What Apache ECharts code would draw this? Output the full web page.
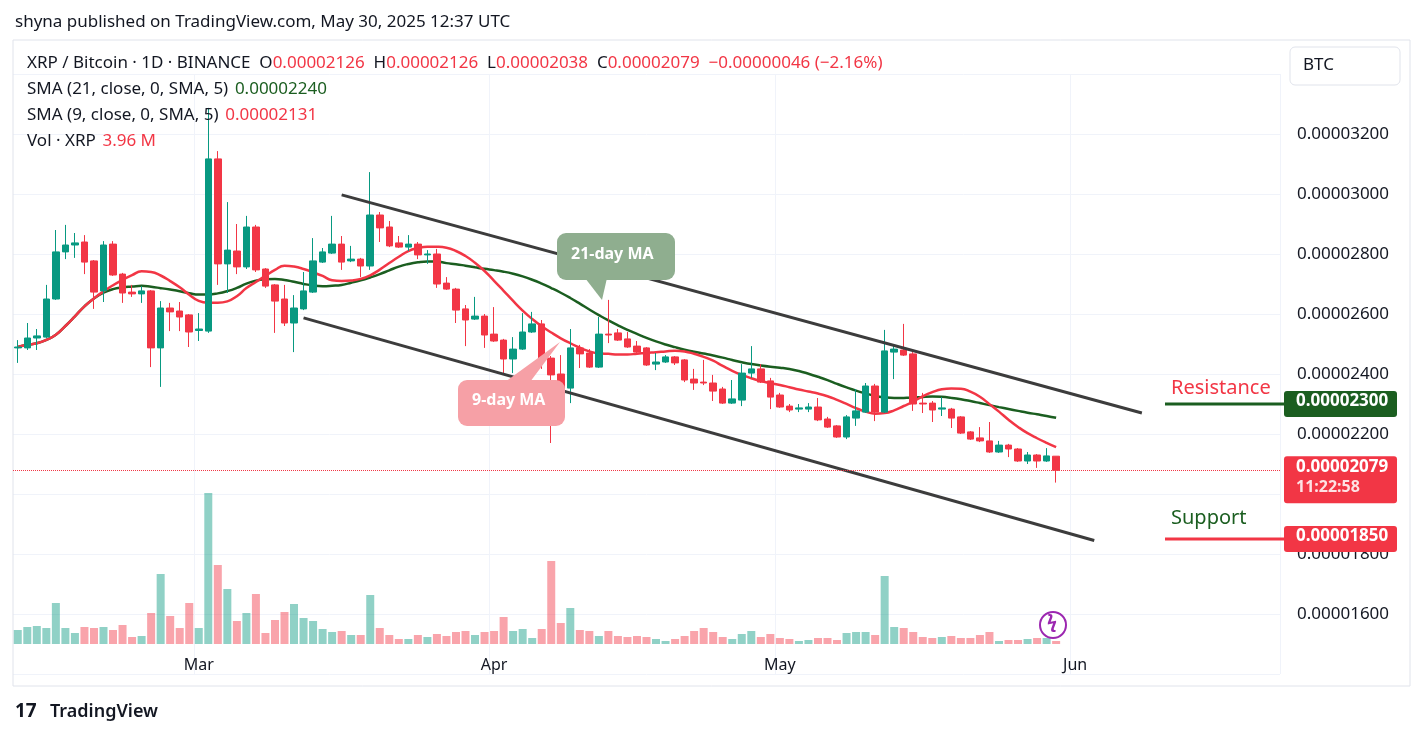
<!DOCTYPE html>
<html><head><meta charset="utf-8">
<script src="https://cdn.jsdelivr.net/npm/echarts@6/dist/echarts.min.js"></script>
<style>html,body{margin:0;padding:0;background:#fff}#c{width:1427px;height:739px}</style>
</head><body><div id="c"></div>
<script>
// prices in units of 1e-8 BTC
const open=[2487,2487,2520,2523,2650,2807,2830,2840,2777,2677,2833,2733,2673,2667,2677,2487,2620,2610,2597,2545,2543,3117,2767,2810,2757,2890,2750,2697,2650,2570,2617,2673,2773,2803,2833,2777,2783,2760,2930,2890,2837,2823,2833,2797,2800,2703,2683,2617,2583,2593,2533,2513,2450,2483,2540,2567,2453,2400,2353,2487,2470,2423,2533,2537,2517,2493,2487,2433,2440,2457,2447,2383,2373,2370,2350,2303,2313,2403,2417,2377,2330,2293,2283,2283,2290,2250,2227,2190,2253,2273,2360,2273,2473,2480,2467,2303,2303,2283,2283,2257,2207,2187,2177,2140,2163,2150,2110,2130,2110,2126];
const close=[2490,2520,2527,2650,2807,2830,2837,2773,2673,2830,2730,2670,2667,2677,2487,2620,2607,2590,2540,2550,3117,2767,2813,2757,2890,2747,2693,2643,2570,2620,2677,2777,2807,2833,2773,2783,2760,2930,2887,2827,2823,2833,2797,2800,2700,2683,2613,2580,2593,2530,2510,2450,2483,2540,2567,2453,2397,2350,2487,2467,2423,2533,2530,2513,2490,2473,2430,2440,2457,2437,2380,2370,2370,2343,2303,2317,2403,2417,2373,2323,2290,2280,2287,2290,2247,2223,2190,2257,2277,2360,2273,2477,2483,2463,2300,2300,2280,2287,2253,2203,2183,2177,2140,2163,2150,2110,2130,2110,2127,2079];
const low=[2437,2480,2480,2520,2647,2783,2787,2733,2617,2640,2727,2637,2657,2637,2423,2357,2543,2543,2490,2510,2537,2697,2670,2733,2750,2740,2687,2537,2560,2473,2613,2670,2770,2800,2747,2773,2723,2747,2840,2823,2820,2810,2783,2767,2687,2680,2570,2493,2580,2487,2507,2403,2403,2480,2537,2417,2170,2333,2303,2420,2420,2420,2503,2510,2487,2467,2427,2413,2437,2430,2373,2347,2363,2310,2300,2300,2293,2387,2370,2283,2287,2273,2273,2273,2243,2220,2187,2183,2227,2270,2243,2270,2383,2460,2277,2270,2240,2260,2220,2200,2180,2173,2137,2137,2123,2107,2100,2087,2107,2038];
const high=[2513,2570,2550,2697,2880,2897,2870,2863,2780,2843,2843,2737,2697,2693,2680,2643,2637,2640,2600,2603,3287,3143,2973,2900,2927,2897,2753,2700,2697,2663,2740,2853,2820,2927,2860,2827,2787,3073,2940,2910,2860,2863,2840,2813,2817,2723,2687,2630,2657,2600,2623,2517,2523,2603,2607,2580,2460,2463,2550,2497,2483,2590,2647,2550,2540,2510,2490,2470,2463,2460,2450,2417,2447,2397,2357,2380,2433,2493,2433,2387,2337,2300,2300,2303,2320,2257,2230,2263,2350,2370,2367,2547,2500,2567,2473,2337,2310,2323,2287,2260,2210,2223,2240,2177,2167,2153,2140,2133,2153,2126];
const volume=[42,51,54,48,123,48,33,51,48,51,42,57,21,24,93,210,84,48,123,48,453,237,165,69,93,150,33,72,96,120,78,69,45,36,39,27,27,147,48,27,15,15,27,21,30,24,36,39,27,36,39,81,39,45,18,45,249,63,108,42,39,24,39,24,21,24,21,15,9,15,24,39,48,36,21,15,30,39,21,30,18,15,9,12,18,18,12,33,36,36,27,204,51,48,36,21,18,21,24,18,18,27,36,9,12,12,15,18,18,9];
const monthNames=['Jan','Feb','Mar','Apr','May','Jun'];
const resistance=2300, support=1850, lastPrice=2079;
const yTicks=[1600,1800,2000,2200,2400,2600,2800,3000,3200];

const cats=[];const isFirst=[];
{const d=new Date(Date.UTC(2025,1,10));for(let i=0;i<133;i++){cats.push(monthNames[d.getUTCMonth()]+' '+d.getUTCDate());isFirst.push(d.getUTCDate()===1);d.setUTCDate(d.getUTCDate()+1);}}
const candles=open.map((o,i)=>[o,close[i],low[i],high[i]]);
function sma(arr,n){return arr.map((v,i)=>{const s=arr.slice(Math.max(0,i-n+1),i+1);return s.reduce((a,b)=>a+b,0)/s.length;});}
const ma21=sma(sma(close,21),5), ma9=sma(sma(close,9),5);
const vols=volume.map((v,i)=>({value:v,itemStyle:{color:close[i]>=open[i]?'rgba(8,153,129,0.45)':'rgba(242,54,69,0.45)'}}));
const fmt=v=>(v/1e8).toFixed(8);
const chart=echarts.init(document.getElementById('c'));
const F='"Noto Sans", Roboto, sans-serif';
const chLine={lineStyle:{color:'#3c3c3c',width:3,type:'solid'}};
chart.setOption({
 animation:false,
 textStyle:{fontFamily:F},
 grid:[{left:13,right:147,top:74,bottom:65},{left:13,right:147,top:493,bottom:95}],
 xAxis:[
  {type:'category',gridIndex:0,data:cats,axisLabel:{show:false},axisTick:{show:false},axisLine:{show:false},
   splitLine:{show:true,interval:i=>isFirst[i],lineStyle:{color:'#f0f3fa'}}},
  {type:'category',gridIndex:1,data:cats,axisTick:{show:false},axisLine:{show:false},
   axisLabel:{interval:i=>isFirst[i],formatter:v=>v.split(' ')[0],color:'#131722',fontSize:16,margin:13}}
 ],
 yAxis:[
  {type:'value',gridIndex:0,position:'right',min:1400,max:3400,interval:200,axisLine:{show:false},axisTick:{show:false},
   splitLine:{lineStyle:{color:'#f0f3fa'}},axisLabel:{formatter:v=>yTicks.includes(v)?fmt(v):'',color:'#131722',fontSize:17,margin:17}},
  {type:'value',gridIndex:1,min:0,max:453,show:false}
 ],
 series:[
  {type:'bar',xAxisIndex:1,yAxisIndex:1,data:vols,barWidth:8,z:1},
  {type:'line',data:ma21,showSymbol:false,lineStyle:{color:'#1b5e20',width:2.5},z:3,smooth:true},
  {type:'line',data:ma9,showSymbol:false,lineStyle:{color:'#f23645',width:2.5},z:3,smooth:true},
  {type:'candlestick',data:candles,barWidth:7,z:4,
   itemStyle:{color:'#089981',color0:'#f23645',borderColor:'#089981',borderColor0:'#f23645'},
   markLine:{symbol:'none',silent:true,label:{show:false},data:[
    [{coord:[cats[34],2997],...chLine},{coord:[cats[118],2270]}],
    [{coord:[cats[30],2587],...chLine},{coord:[cats[113],1845]}],
    {yAxis:lastPrice,lineStyle:{color:'#f23645',type:'dotted',width:1}}
   ]}}
 ]
});
const yR=chart.convertToPixel({yAxisIndex:0},resistance);
const yS=chart.convertToPixel({yAxisIndex:0},support);
const yP=chart.convertToPixel({yAxisIndex:0},lastPrice);
const S='17px '+F, B='bold 17px '+F;
const T=(x,y,text,o)=>({type:'text',left:x,top:y,z:100,style:Object.assign({text,fill:'#131722',font:S},o||{})});
const g=[
 {type:'rect',shape:{x:13,y:40,width:1397,height:646},style:{fill:'none',stroke:'#e0e3eb',lineWidth:1},z:0},
 T(15,14,'shyna published on TradingView.com, May 30, 2025 12:37 UTC'),
 {type:'text',left:27,top:55,z:100,style:{rich:{k:{fill:'#131722',font:S},r:{fill:'#f23645',font:S}},
  text:'{k|XRP / Bitcoin · 1D · BINANCE  O}{r|0.00002126}{k|  H}{r|0.00002126}{k|  L}{r|0.00002038}{k|  C}{r|0.00002079  −0.00000046 (−2.16%)}'}},
 {type:'text',left:27,top:81,z:100,style:{rich:{k:{fill:'#131722',font:S},g:{fill:'#1b5e20',font:S}},text:'{k|SMA (21, close, 0, SMA, 5)}  {g|0.00002240}'}},
 {type:'text',left:27,top:107,z:100,style:{rich:{k:{fill:'#131722',font:S},r:{fill:'#f23645',font:S}},text:'{k|SMA (9, close, 0, SMA, 5)}  {r|0.00002131}'}},
 {type:'text',left:27,top:133,z:100,style:{rich:{k:{fill:'#131722',font:S},r:{fill:'#f23645',font:S}},text:'{k|Vol · XRP}  {r|3.96 M}'}},
 {type:'rect',shape:{x:1290,y:47,width:110,height:38,r:5},style:{fill:'#fff',stroke:'#e0e3eb'},z:50},
 T(1303,57,'BTC'),
 {type:'polygon',shape:{points:[[585,278],[607,278],[602,300]]},style:{fill:'#8fae8f'},z:60},
 {type:'rect',shape:{x:557,y:233,width:118,height:47,r:9},style:{fill:'#8fae8f'},z:60},
 T(571,246,'21-day MA',{fill:'#fff',font:'bold 16px '+F}),
 {type:'polygon',shape:{points:[[505,382],[530,382],[560,342]]},style:{fill:'#f6a0a6'},z:60},
 {type:'rect',shape:{x:458,y:380,width:107,height:46,r:9},style:{fill:'#f6a0a6'},z:60},
 T(472,392,'9-day MA',{fill:'#fff',font:'bold 16px '+F}),
 T(1171,yR-26,'Resistance',{fill:'#f23645',font:'20px '+F}),
 {type:'line',shape:{x1:1165,y1:yR,x2:1285,y2:yR},style:{stroke:'#1b5e20',lineWidth:3},z:60},
 {type:'rect',shape:{x:1284,y:yR-13,width:113,height:26,r:3},style:{fill:'#1b5e20'},z:90},
 T(1296,yR-11,'0.00002300',{fill:'#fff',font:B}),
 T(1171,yS-31,'Support',{fill:'#1b5e20',font:'20px '+F}),
 {type:'line',shape:{x1:1165,y1:yS,x2:1285,y2:yS},style:{stroke:'#f23645',lineWidth:3},z:60},
 {type:'rect',shape:{x:1284,y:yS-13,width:113,height:26,r:3},style:{fill:'#f23645'},z:90},
 T(1296,yS-11,'0.00001850',{fill:'#fff',font:B}),
 {type:'rect',shape:{x:1284,y:yP-14,width:113,height:47,r:3},style:{fill:'#f23645'},z:90},
 T(1296,yP-12,'0.00002079',{fill:'#fff',font:B}),
 T(1296,yP+9,'11:22:58',{fill:'#fde2e4',font:'bold 16px '+F}),
 {type:'circle',shape:{cx:1053,cy:625,r:13},style:{fill:'#fff',stroke:'#9c27b0',lineWidth:2},z:95},
 T(1047,614,'ϟ',{fill:'#9c27b0',font:'bold 18px '+F}),
 T(15,702,'17',{fill:'#131722',font:'bold 19px '+F}),
 T(50,703,'TradingView',{fill:'#131722',font:'600 18px '+F})
];
chart.setOption({graphic:g});
</script></body></html>
